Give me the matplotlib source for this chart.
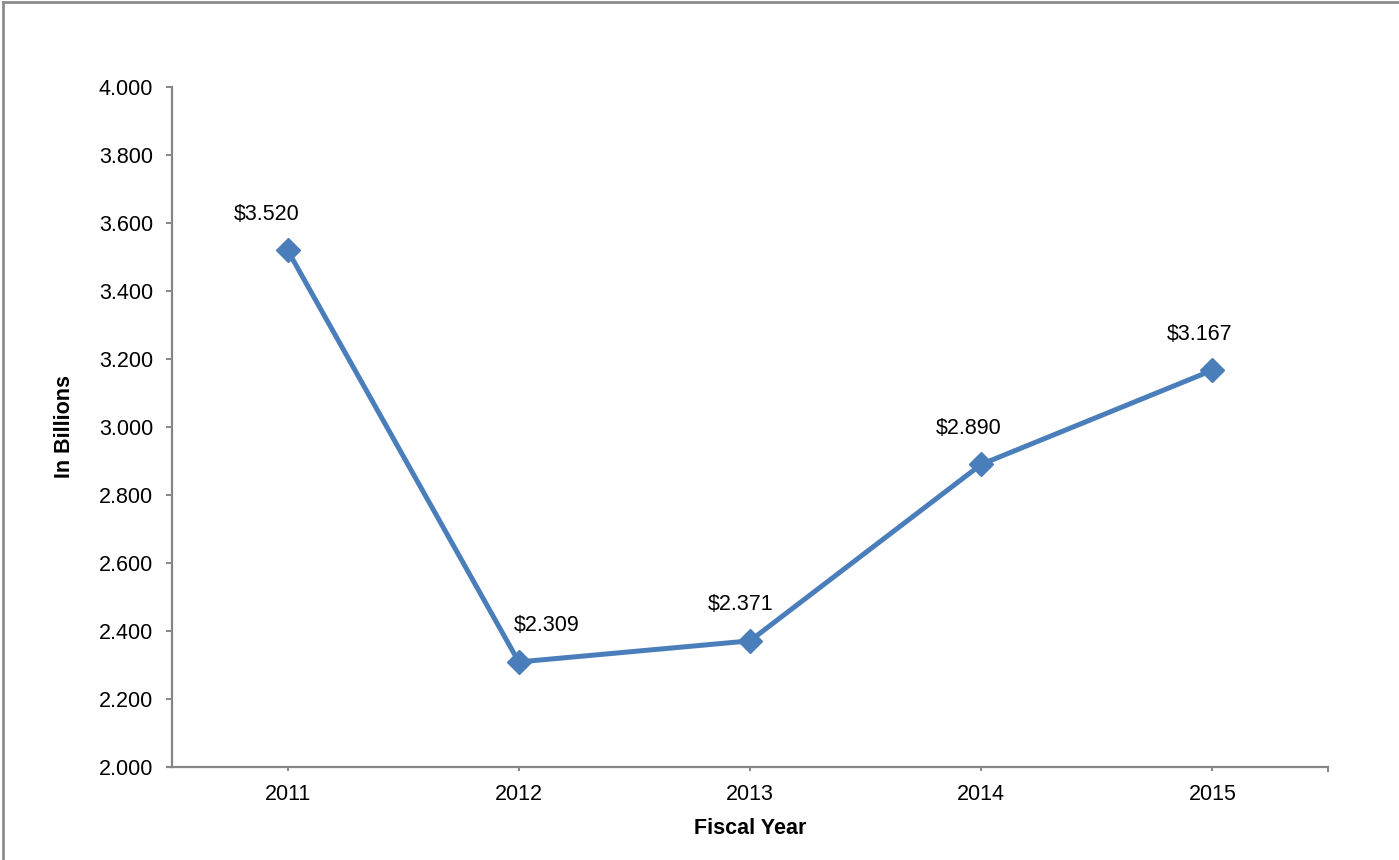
import matplotlib
matplotlib.use("Agg")
import matplotlib.pyplot as plt
from matplotlib.lines import Line2D

years = ["2011", "2012", "2013", "2014", "2015"]
values = [3.520, 2.309, 2.371, 2.890, 3.167]
value_labels = ["$3.520", "$2.309", "$2.371", "$2.890", "$3.167"]
label_dx = [-15, 20, -7, -9, -9]  # horizontal label nudges, points

yticks = [2.0, 2.2, 2.4, 2.6, 2.8, 3.0, 3.2, 3.4, 3.6, 3.8, 4.0]

plt.rcParams["font.family"] = ["Liberation Sans", "DejaVu Sans"]

W, H = 1399, 860
fig = plt.figure(figsize=(W / 100, H / 100), dpi=100)
ax = fig.add_axes([172 / W, (H - 767) / H, (1328 - 172) / W, (767 - 87) / H])

line_color = "#4A7EBB"
axis_color = "#868686"
fs = 15.5

x = list(range(len(years)))
ax.plot(x, values, color=line_color, lw=3.6, marker="D", markersize=12,
        markerfacecolor=line_color, markeredgecolor=line_color, zorder=3,
        clip_on=False)

for xi, v, lab, dx in zip(x, values, value_labels, label_dx):
    ax.annotate(lab, (xi, v), xytext=(dx, 26), textcoords="offset points",
                ha="center", va="center", fontsize=fs, color="black")

ax.set_xlim(-0.5, len(years) - 0.5)
ax.set_ylim(2.0, 4.0)
ax.set_yticks(yticks)
ax.set_yticklabels([f"{t:.3f}" for t in yticks])
ax.set_xticks(x)
ax.set_xticklabels(years)

for side in ("top", "right"):
    ax.spines[side].set_visible(False)
for side in ("left", "bottom"):
    ax.spines[side].set_color(axis_color)
    ax.spines[side].set_linewidth(1.6)

ax.tick_params(axis="y", direction="out", length=4.5, width=1.4, color=axis_color,
               labelsize=fs, pad=9)
ax.tick_params(axis="x", direction="out", length=3, width=1.4, color=axis_color,
               labelsize=fs, pad=9)

# extend x axis line to the left and mark its right end
ax.plot([-0.5 - 6 / 231.5, -0.5], [2.0, 2.0], color=axis_color, lw=1.6,
        clip_on=False, solid_capstyle="butt")
ax.plot([4.5, 4.5], [2.0, 2.0 - 5 / 340], color=axis_color, lw=1.4,
        clip_on=False, solid_capstyle="butt")

ax.set_xlabel("Fiscal Year", fontsize=fs, fontweight="bold", labelpad=9.5)
ax.set_ylabel("In Billions", fontsize=fs, fontweight="bold", labelpad=17)

# chart frame
fig.add_artist(Line2D([3 / W, 1], [1 - 2 / H, 1 - 2 / H], color="#8c8c8c", lw=2))
fig.add_artist(Line2D([3 / W, 3 / W], [0, 1 - 2 / H], color="#8c8c8c", lw=2))

fig.savefig("out.png", dpi=100, facecolor="white")
